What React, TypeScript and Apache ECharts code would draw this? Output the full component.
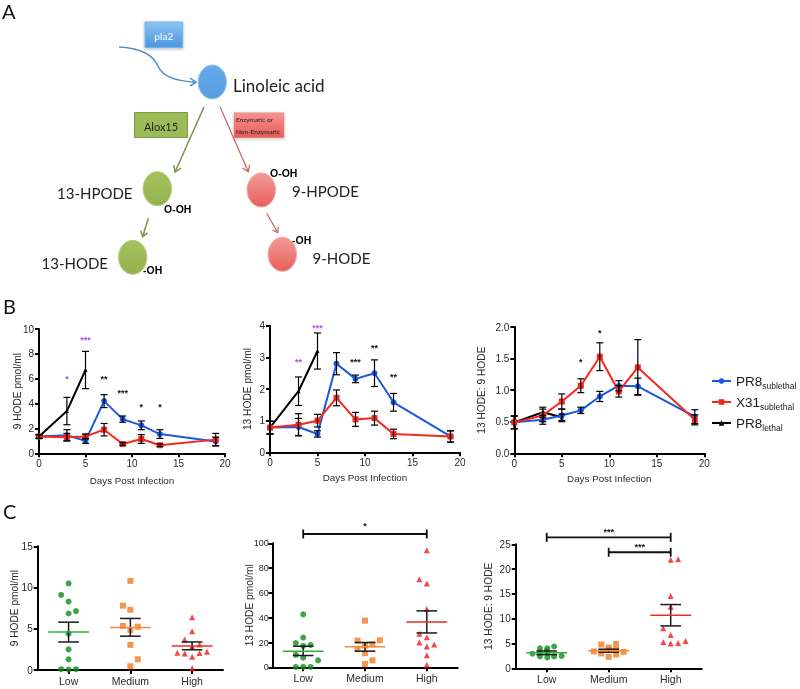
import React, { useEffect, useRef } from "react";
import * as echarts from "echarts";

const days = [0, 3, 5, 7, 9, 11, 13, 19];
const lethalDays = [0, 3, 5];
const legendNames = ["PR8 sublethal", "X31 sublethal", "PR8 lethal"];
const groupLabels = ["Low", "Medium", "High"];

const hode9Sub = [1.35, 1.45, 1.0, 4.2, 2.75, 2.25, 1.55, 0.95];
const hode9SubErr = [0.15, 0.45, 0.2, 0.52, 0.25, 0.35, 0.35, 0.35];
const hode9X31 = [1.35, 1.3, 1.35, 1.9, 0.75, 1.15, 0.65, 1.1];
const hode9X31Err = [0.15, 0.3, 0.2, 0.5, 0.1, 0.35, 0.1, 0.5];
const hode9Let = [1.35, 3.4, 6.7];
const hode9LetErr = [0.15, 1.1, 1.5];
const hode9Stars: [number, number, string, boolean][] = [
  [3, 6.0, "*", true], [5, 9.1, "***", true], [7, 6.0, "**", false],
  [9, 4.85, "***", false], [11, 3.75, "*", false], [13, 3.75, "*", false],
];

const hode13Sub = [0.78, 0.8, 0.58, 2.8, 2.32, 2.5, 1.58, 0.5];
const hode13SubErr = [0.2, 0.27, 0.1, 0.35, 0.12, 0.42, 0.28, 0.18];
const hode13X31 = [0.78, 0.87, 1.0, 1.72, 1.04, 1.08, 0.58, 0.5];
const hode13X31Err = [0.2, 0.35, 0.2, 0.25, 0.22, 0.22, 0.15, 0.18];
const hode13Let = [0.78, 1.93, 3.2];
const hode13LetErr = [0.2, 0.45, 0.57];
const hode13Stars: [number, number, string, boolean][] = [
  [3, 2.84, "**", true], [5, 3.92, "***", true], [9, 2.84, "***", false],
  [11, 3.3, "**", false], [13, 2.39, "**", false],
];

const ratioSub = [0.49, 0.53, 0.6, 0.68, 0.9, 1.07, 1.06, 0.58];
const ratioSubErr = [0.1, 0.07, 0.1, 0.05, 0.08, 0.08, 0.13, 0.11];
const ratioX31 = [0.49, 0.6, 0.82, 1.07, 1.53, 0.98, 1.36, 0.53];
const ratioX31Err = [0.1, 0.1, 0.12, 0.11, 0.22, 0.09, 0.44, 0.08];
const ratioLet = [0.49, 0.65, 0.57];
const ratioLetErr = [0.1, 0.08, 0.05];
const ratioStars: [number, number, string, boolean][] = [
  [7, 1.44, "*", false], [9, 1.91, "*", false],
];

// [x position on a 0..3 group scale, value]
const c9Low = [[0.5, 10.5], [0.38, 9.1], [0.5, 8.3], [0.62, 7.15], [0.5, 6.85], [0.5, 4.4], [0.5, 2.5], [0.5, 1.3], [0.38, 0.1], [0.5, 0.05], [0.62, 0.1]];
const c9Med = [[1.5, 10.8], [1.38, 7.8], [1.5, 7.3], [1.38, 5.35], [1.62, 5.25], [1.5, 4.85], [1.5, 3.05], [1.62, 1.3], [1.5, 0.45]];
const c9High = [[2.5, 6.4], [2.5, 4.7], [2.38, 3.7], [2.62, 3.1], [2.5, 2.85], [2.26, 2.1], [2.38, 2.0], [2.62, 2.05], [2.74, 2.2], [2.5, 1.6], [2.5, 0.2]];
const c9Stats = [[0.5, 4.6, 3.4, 5.8], [1.5, 5.15, 4.1, 6.25], [2.5, 2.9, 2.45, 3.4]];

const c13Low = [[0.5, 42.7], [0.5, 24], [0.38, 19.6], [0.62, 18], [0.5, 17.2], [0.38, 10], [0.5, 7.8], [0.74, 5.6], [0.38, 0.3], [0.5, 0.3], [0.62, 0.3]];
const c13Med = [[1.5, 37.6], [1.38, 21.5], [1.74, 21.8], [1.62, 18.5], [1.5, 17.5], [1.38, 14.8], [1.5, 11.3], [1.62, 5.6], [1.5, 2.7]];
const c13High = [[2.5, 94.4], [2.38, 71], [2.5, 67.5], [2.5, 47], [2.38, 27], [2.5, 24.2], [2.38, 20], [2.62, 18.3], [2.5, 16.7], [2.5, 9.7], [2.5, 2]];
const c13Stats = [[0.5, 13, 9.5, 17], [1.5, 16.5, 13, 20], [2.5, 36.5, 27.7, 45.5]];
const c13Brackets = [[0.5, 2.5, 107.5, "*", 114]];

const cRatioLow = [[0.27, 2.95], [0.39, 4.03], [0.51, 4.03], [0.62, 4.4], [0.39, 2.4], [0.51, 2.2], [0.62, 2.4], [0.74, 2.5], [0.39, 3.2], [0.51, 3.2], [0.5, 3.55]];
const cRatioMed = [[1.38, 4.8], [1.62, 4.9], [1.5, 4.2], [1.26, 3.4], [1.74, 3.3], [1.38, 3.0], [1.62, 2.8], [1.5, 2.3], [1.5, 3.7], [1.62, 3.7]];
const cRatioHigh = [[2.5, 21.9], [2.62, 22], [2.5, 14.6], [2.5, 12.4], [2.38, 8.06], [2.5, 6.7], [2.38, 5.3], [2.74, 5.5], [2.62, 5.1], [2.5, 5.0]];
const cRatioStats = [[0.5, 3.15, 2.75, 3.5], [1.5, 3.55, 3.25, 3.85], [2.5, 10.7, 8.55, 12.85]];
const cRatioBrackets = [[0.5, 2.5, 26.4, "***", 27.4], [1.5, 2.5, 23.4, "***", 24.4]];

const BLUE = "#1b58e0";
const RED = "#f5281e";
const BLACK = "#000000";
const PURPLE = "#a850e8";
const GREEN = "#0d8f1c";
const ORANGE = "#f47b20";
const AXIS_FONT = "Liberation Sans";
const DIAGRAM_FONT = "Lato";

function axisBase(grid: number) {
  return {
    gridIndex: grid,
    axisLine: { show: true, onZero: false, lineStyle: { color: "#000", width: 2 } },
    axisTick: { show: true, length: 4, lineStyle: { color: "#000", width: 2 } },
    splitLine: { show: false },
    axisLabel: { color: "#2a2a2a", fontSize: 10, fontFamily: AXIS_FONT, margin: 5 },
    nameLocation: "middle" as const,
    nameMoveOverlap: false,
    nameTextStyle: { color: "#2a2a2a", fontSize: 10.2, fontFamily: AXIS_FONT },
  };
}

function errorBars(grid: number, xs: number[], ys: number[], errs: number[]) {
  return {
    type: "custom", name: "err", xAxisIndex: grid, yAxisIndex: grid, z: 5,
    data: xs.map((x, i) => [x, ys[i], ys[i] - errs[i], ys[i] + errs[i]]),
    encode: { x: 0, y: 1 },
    renderItem: (_: any, api: any) => {
      const x = api.value(0);
      const lo = api.coord([x, api.value(2)]);
      const hi = api.coord([x, api.value(3)]);
      const st = { stroke: "#000", lineWidth: 1.2, fill: "none" };
      const cap = 3.5;
      return {
        type: "group",
        children: [
          { type: "line", shape: { x1: lo[0], y1: lo[1], x2: hi[0], y2: hi[1] }, style: st },
          { type: "line", shape: { x1: lo[0] - cap, y1: lo[1], x2: lo[0] + cap, y2: lo[1] }, style: st },
          { type: "line", shape: { x1: hi[0] - cap, y1: hi[1], x2: hi[0] + cap, y2: hi[1] }, style: st },
        ],
      };
    },
  };
}

function starSeries(grid: number, stars: [number, number, string, boolean][]) {
  return {
    type: "custom", name: "stars", xAxisIndex: grid, yAxisIndex: grid, z: 6,
    data: stars.map((s) => [s[0], s[1]]),
    encode: { x: 0, y: 1 },
    renderItem: (p: any, api: any) => {
      const c = api.coord([api.value(0), api.value(1)]);
      const s = stars[p.dataIndex];
      return {
        type: "text", x: c[0], y: c[1],
        style: { text: s[2], fill: s[3] ? PURPLE : "#111", font: `bold 9px ${AXIS_FONT}`, align: "center", verticalAlign: "middle" },
      };
    },
  };
}

function lineSeries(grid: number, name: string, xs: number[], ys: number[], color: string, symbol: string, size: number, z: number) {
  return {
    type: "line", name, xAxisIndex: grid, yAxisIndex: grid, z,
    data: xs.map((x, i) => [x, ys[i]]),
    symbol, symbolSize: size, showSymbol: true,
    lineStyle: { color, width: 2 }, itemStyle: { color },
  };
}

function scatterSeries(grid: number, data: number[][], color: string, symbol: string) {
  return {
    type: "scatter", name: "points", xAxisIndex: grid, yAxisIndex: grid, z: 3,
    data, symbol, symbolSize: 6, itemStyle: { color },
  };
}

function statsSeries(grid: number, stats: number[][], colors: string[]) {
  return {
    type: "custom", name: "mean", xAxisIndex: grid, yAxisIndex: grid, z: 4,
    data: stats, encode: { x: 0, y: 1 },
    renderItem: (p: any, api: any) => {
      const x = api.value(0);
      const m0 = api.coord([x - 0.33, api.value(1)]);
      const m1 = api.coord([x + 0.33, api.value(1)]);
      const lo = api.coord([x, api.value(2)]);
      const hi = api.coord([x, api.value(3)]);
      const cap = api.size([0.167, 0])[0];
      const st = { stroke: "#1a1a1a", lineWidth: 1.5, fill: "none" };
      return {
        type: "group",
        children: [
          { type: "line", shape: { x1: lo[0], y1: lo[1], x2: hi[0], y2: hi[1] }, style: st },
          { type: "line", shape: { x1: lo[0] - cap, y1: lo[1], x2: lo[0] + cap, y2: lo[1] }, style: st },
          { type: "line", shape: { x1: hi[0] - cap, y1: hi[1], x2: hi[0] + cap, y2: hi[1] }, style: st },
          { type: "line", shape: { x1: m0[0], y1: m0[1], x2: m1[0], y2: m1[1] }, style: { stroke: colors[p.dataIndex], lineWidth: 1.5 } },
        ],
      };
    },
  };
}

function bracketSeries(grid: number, brackets: any[]) {
  return {
    type: "custom", name: "bracket", xAxisIndex: grid, yAxisIndex: grid, z: 4,
    data: brackets.map((b) => [b[0], b[1], b[2], b[4]]), encode: { x: 0, y: 2 },
    renderItem: (p: any, api: any) => {
      const a = api.coord([api.value(0), api.value(2)]);
      const b = api.coord([api.value(1), api.value(2)]);
      const t = api.coord([(api.value(0) + api.value(1)) / 2, api.value(3)]);
      const st = { stroke: "#111", lineWidth: 1.8, fill: "none" };
      const cap = 4.5;
      return {
        type: "group",
        children: [
          { type: "line", shape: { x1: a[0], y1: a[1], x2: b[0], y2: b[1] }, style: st },
          { type: "line", shape: { x1: a[0], y1: a[1] - cap, x2: a[0], y2: a[1] + cap }, style: st },
          { type: "line", shape: { x1: b[0], y1: b[1] - cap, x2: b[0], y2: b[1] + cap }, style: st },
          { type: "text", x: t[0], y: t[1], style: { text: brackets[p.dataIndex][3], fill: "#111", font: `bold 9px ${AXIS_FONT}`, align: "center", verticalAlign: "middle" } },
        ],
      };
    },
  };
}

function arrow(x1: number, y1: number, x2: number, y2: number, color: string, w: number, head = 7) {
  const ang = Math.atan2(y2 - y1, x2 - x1);
  const pt = (d: number) => [x2 - head * Math.cos(ang + d), y2 - head * Math.sin(ang + d)];
  return [
    { type: "line", shape: { x1, y1, x2, y2 }, style: { stroke: color, lineWidth: w } },
    { type: "polyline", shape: { points: [pt(0.6), [x2, y2], pt(-0.6)] }, style: { stroke: color, lineWidth: w, fill: "none" } },
  ];
}

function grad(top: string, bottom: string) {
  return new echarts.graphic.LinearGradient(0, 0, 0, 1, [
    { offset: 0, color: top }, { offset: 1, color: bottom },
  ]);
}

function label(text: string, x: number, y: number, size: number, extra: any = {}) {
  return {
    type: "text", x, y,
    style: { text, fontFamily: DIAGRAM_FONT, fontSize: size, fill: "#222", verticalAlign: "middle", align: "left", ...extra },
  };
}

function ellipse(cx: number, cy: number, top: string, bottom: string, stroke: string) {
  return {
    type: "ellipse", shape: { cx, cy, rx: 14.2, ry: 17 },
    style: { fill: grad(top, bottom), stroke, lineWidth: 1 },
  };
}

function diagram() {
  const blueA = "#4f8cc9";
  const greenA = "#7f9a4a";
  const redA = "#c9605e";
  const gTop = "#a5c25f"; const gBot = "#93b24e";
  const rTop = "#f49a96"; const rBot = "#e8605c";
  const bold = { fontFamily: AXIS_FONT, fontWeight: "bold", fill: "#000" };
  return [
    label("A", 2, 11, 20, { fill: "#111" }),
    label("B", 3, 306, 20, { fill: "#111" }),
    label("C", 3, 511, 20, { fill: "#111" }),
    { type: "rect", shape: { x: 145, y: 22, width: 37.7, height: 25.7 }, style: { fill: grad("#8cc4f4", "#4a94e0"), stroke: "#7fb4e6", lineWidth: 1, shadowBlur: 3, shadowColor: "rgba(0,0,0,0.3)", shadowOffsetY: 1 } },
    label("pla2", 163.8, 35.5, 10, { fill: "#dfeaf5", align: "center", fontWeight: "bold" }),
    { type: "bezierCurve", shape: { x1: 119, y1: 47, cpx1: 140, cpy1: 48, cpx2: 153, cpy2: 55, x2: 158, y2: 66 }, style: { stroke: blueA, lineWidth: 1.5, fill: "none" } },
    { type: "bezierCurve", shape: { x1: 158, y1: 66, cpx1: 163, cpy1: 78, cpx2: 178, cpy2: 81, x2: 196, y2: 82.3 }, style: { stroke: blueA, lineWidth: 1.5, fill: "none" } },
    { type: "polyline", shape: { points: [[190, 78], [196, 82.3], [190, 86]] }, style: { stroke: blueA, lineWidth: 1.5, fill: "none" } },
    ellipse(212.3, 82, "#62a8ea", "#5a9fe4", "#9cc4ea"),
    label("Linoleic acid", 233, 85, 17),
    { type: "rect", shape: { x: 134.5, y: 112.5, width: 53, height: 25 }, style: { fill: "#9bbb59", stroke: "#7c9a3e", lineWidth: 1 } },
    label("Alox15", 161, 126.5, 11, { align: "center" }),
    { type: "rect", shape: { x: 234, y: 112.7, width: 50, height: 25 }, style: { fill: grad("#f49490", "#e85a56"), stroke: "#ea8a86", lineWidth: 0.5, shadowBlur: 3, shadowColor: "rgba(0,0,0,0.25)", shadowOffsetY: 1 } },
    label("Enzymatic or", 236, 119.5, 6.5),
    label("Non-Enzymatic", 236, 131, 6.5),
    ...arrow(204, 107, 175, 172, greenA, 1.6),
    ...arrow(220, 106.7, 248.3, 171.7, redA, 1.2),
    ...arrow(148.3, 218.3, 142.7, 236.7, greenA, 1.6, 6),
    ...arrow(266.7, 213.3, 277.7, 232.7, redA, 1.2, 6),
    ellipse(157.3, 188.7, gTop, gBot, "#b5cc80"),
    ellipse(132.7, 257.3, gTop, gBot, "#b5cc80"),
    ellipse(261.3, 190, rTop, rBot, "#f0a8a4"),
    ellipse(282.3, 254.3, rTop, rBot, "#f0a8a4"),
    label("13-HPODE", 57, 193, 15),
    label("13-HODE", 41.5, 263, 15),
    label("9-HPODE", 292, 191, 15),
    label("9-HODE", 312.5, 258, 15),
    label("O-OH", 164, 208.5, 10.5, bold),
    label("-OH", 143, 269.5, 10.5, bold),
    label("O-OH", 270, 173, 10.5, bold),
    label("-OH", 292, 240, 10.5, bold),
  ];
}

export default function App() {
  const ref = useRef<HTMLDivElement>(null);
  useEffect(() => {
    const chart = echarts.init(ref.current!, undefined, { renderer: "svg" });
    const grids = [
      { left: 39, top: 329, width: 186, height: 124.3 },
      { left: 270, top: 325.7, width: 190, height: 126.6 },
      { left: 514.3, top: 327, width: 190, height: 126.3 },
      { left: 37.7, top: 546.3, width: 185.3, height: 123.7 },
      { left: 272.3, top: 543.3, width: 185.4, height: 124 },
      { left: 515.7, top: 544.3, width: 186, height: 124 },
    ];
    const dayAxis = (g: number, gap: number) => {
      const b = axisBase(g);
      return {
        ...b, type: "value", min: 0, max: 20, interval: 5,
        name: "Days Post Infection", nameGap: gap,
        nameTextStyle: { ...b.nameTextStyle, fontSize: 9.8 },
      };
    };
    const groupAxis = (g: number) => {
      const b = axisBase(g);
      return {
        ...b, type: "value", min: 0, max: 3,
        axisTick: { ...b.axisTick, customValues: [0.5, 1.5, 2.5] },
        axisLabel: {
          ...b.axisLabel, customValues: [0.5, 1.5, 2.5], fontSize: 10.5,
          formatter: (v: number) => groupLabels[Math.floor(v)],
        },
      };
    };
    const valAxis = (g: number, max: number, interval: number, name: string, gap: number, dec?: number, labelOver?: any) => {
      const b = axisBase(g);
      return {
        ...b, type: "value", min: 0, max, interval, name, nameGap: gap,
        axisLabel: {
          ...b.axisLabel,
          ...(dec ? { formatter: (v: number) => v.toFixed(dec) } : {}),
          ...(labelOver || {}),
        },
      };
    };
    const timePanel = (g: number, sub: number[], subE: number[], x31: number[], x31E: number[], le: number[], leE: number[], stars: any) => [
      lineSeries(g, legendNames[2], lethalDays, le, BLACK, "triangle", 4, 2),
      lineSeries(g, legendNames[0], days, sub, BLUE, "circle", 6, 3),
      lineSeries(g, legendNames[1], days, x31, RED, "rect", 6, 4),
      errorBars(g, lethalDays, le, leE),
      errorBars(g, days, sub, subE),
      errorBars(g, days, x31, x31E),
      starSeries(g, stars),
    ];
    const groupPanel = (g: number, lo: number[][], me: number[][], hi: number[][], stats: number[][], br?: any[]) => [
      scatterSeries(g, lo, GREEN, "circle"),
      scatterSeries(g, me, ORANGE, "rect"),
      scatterSeries(g, hi, "#ef1c1c", "triangle"),
      statsSeries(g, stats, ["#2fae3a", "#f68a3c", "#f22a24"]),
      ...(br ? [bracketSeries(g, br)] : []),
    ];
    chart.setOption({
      animation: false,
      backgroundColor: "#ffffff",
      textStyle: { fontFamily: AXIS_FONT },
      grid: grids,
      xAxis: [dayAxis(0, 22), dayAxis(1, 20), dayAxis(2, 20), groupAxis(3), groupAxis(4), groupAxis(5)],
      yAxis: [
        valAxis(0, 10, 2, "9 HODE pmol/ml", 17),
        valAxis(1, 4, 1, "13 HODE pmol/ml", 18),
        valAxis(2, 2, 0.5, "13 HODE: 9 HODE", 28, 1),
        valAxis(3, 15, 5, "9 HODE pmol/ml", 18),
        valAxis(4, 100, 20, "13 HODE pmol/ml", 17.5, undefined, { fontSize: 9, margin: 3.5 }),
        valAxis(5, 25, 5, "13 HODE: 9 HODE", 22),
      ],
      legend: {
        data: legendNames, orient: "vertical", left: 706, top: 369, itemWidth: 19, itemHeight: 7, itemGap: 5,
        selectedMode: false,
        formatter: (n: string) => { const [a, b] = n.split(" "); return `{a|${a}}{b|${b}}`; },
        textStyle: {
          rich: {
            a: { fontSize: 13.5, color: "#1a1a1a", fontFamily: AXIS_FONT, lineHeight: 18 },
            b: { fontSize: 8.5, color: "#1a1a1a", fontFamily: AXIS_FONT, verticalAlign: "bottom", lineHeight: 14 },
          },
        },
      },
      graphic: { elements: diagram() },
      series: [
        ...timePanel(0, hode9Sub, hode9SubErr, hode9X31, hode9X31Err, hode9Let, hode9LetErr, hode9Stars),
        ...timePanel(1, hode13Sub, hode13SubErr, hode13X31, hode13X31Err, hode13Let, hode13LetErr, hode13Stars),
        ...timePanel(2, ratioSub, ratioSubErr, ratioX31, ratioX31Err, ratioLet, ratioLetErr, ratioStars),
        ...groupPanel(3, c9Low, c9Med, c9High, c9Stats),
        ...groupPanel(4, c13Low, c13Med, c13High, c13Stats, c13Brackets),
        ...groupPanel(5, cRatioLow, cRatioMed, cRatioHigh, cRatioStats, cRatioBrackets),
      ],
    });
    return () => chart.dispose();
  }, []);
  return <div ref={ref} style={{ position: "absolute", left: 0, top: 0, width: 800, height: 689, filter: "blur(0.4px)" }} />;
}
